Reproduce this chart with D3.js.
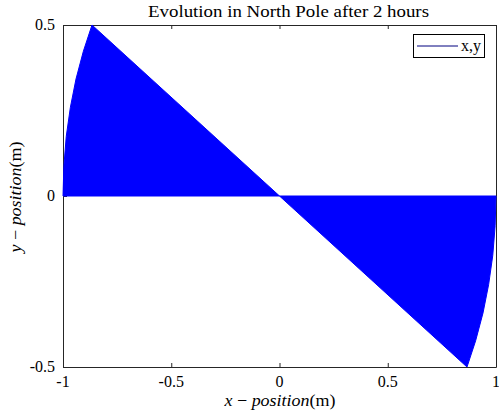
<!DOCTYPE html>
<html>
<head>
<meta charset="utf-8">
<script src="https://cdn.jsdelivr.net/npm/d3@7"></script>
<style>
  html, body { margin: 0; padding: 0; background: #fff; }
  svg { display: block; }
  text { font-family: "Liberation Serif", "Times New Roman", serif; fill: #000; }
</style>
</head>
<body>
<svg id="chart" width="499" height="415"></svg>
<script>
// Swept region of the pendulum path: the swing plane turns from the x axis
// to -30 degrees. Each wedge is outlined by the centre, the rim of the swing,
// and the final swing line.
const upperWedgeX = [0, -1, -0.996, -0.985, -0.966, -0.940, -0.906, -0.866, 0];
const upperWedgeY = [0, 0, 0.087, 0.174, 0.259, 0.342, 0.423, 0.5, 0];
const lowerWedgeX = [0, 1, 0.996, 0.985, 0.966, 0.940, 0.906, 0.866, 0];
const lowerWedgeY = [0, 0, -0.087, -0.174, -0.259, -0.342, -0.423, -0.5, 0];

const xTicks = [-1, -0.5, 0, 0.5, 1];
const yTicks = [-0.5, 0, 0.5];
const xTickLabels = ["-1", "-0.5", "0", "0.5", "1"];
const yTickLabels = ["-0.5", "0", "0.5"];

const titleText = "Evolution in North Pole after 2 hours";
const seriesName = "x,y";

const svg = d3.select("#chart");
const plot = { left: 63, right: 496, top: 25, bottom: 367 };

const x = d3.scaleLinear().domain([-1, 1]).range([plot.left, plot.right]);
const y = d3.scaleLinear().domain([-0.5, 0.5]).range([plot.bottom, plot.top]);

const blue = "#0000ff";
const tickLen = 4;

// axes box with inward ticks on all four sides
const axisG = svg.append("g");
axisG.append("g")
  .attr("transform", `translate(0,${plot.bottom})`)
  .call(d3.axisBottom(x).tickValues(xTicks).tickSizeInner(-tickLen).tickSizeOuter(0).tickFormat(""));
axisG.append("g")
  .attr("transform", `translate(0,${plot.top})`)
  .call(d3.axisTop(x).tickValues(xTicks).tickSizeInner(-tickLen).tickSizeOuter(0).tickFormat(""));
axisG.append("g")
  .attr("transform", `translate(${plot.left},0)`)
  .call(d3.axisLeft(y).tickValues(yTicks).tickSizeInner(-tickLen).tickSizeOuter(0).tickFormat(""));
axisG.append("g")
  .attr("transform", `translate(${plot.right},0)`)
  .call(d3.axisRight(y).tickValues(yTicks).tickSizeInner(-tickLen).tickSizeOuter(0).tickFormat(""));
axisG.selectAll(".domain").attr("stroke", "#262626").attr("stroke-width", 1);
axisG.selectAll(".tick line").attr("stroke", "#262626").attr("stroke-width", 1);

// tick labels
svg.append("g").selectAll("text")
  .data(xTicks)
  .join("text")
  .attr("x", d => x(d))
  .attr("y", plot.bottom + 20)
  .attr("text-anchor", "middle")
  .attr("font-size", 16)
  .text((d, i) => xTickLabels[i]);
svg.append("g").selectAll("text")
  .data(yTicks)
  .join("text")
  .attr("x", plot.left - 8)
  .attr("y", d => y(d) + 5)
  .attr("text-anchor", "end")
  .attr("font-size", 16)
  .text((d, i) => yTickLabels[i]);

// swept area of the swing
const line = d3.line().x(d => x(d[0])).y(d => y(d[1]));
const wedges = [d3.zip(upperWedgeX, upperWedgeY), d3.zip(lowerWedgeX, lowerWedgeY)];
svg.append("g").selectAll("path")
  .data(wedges)
  .join("path")
  .attr("d", line)
  .attr("fill", blue)
  .attr("stroke", blue)
  .attr("stroke-width", 1)
  .attr("stroke-linejoin", "round");

// title
svg.append("text")
  .attr("x", (plot.left + plot.right) / 2 + 9)
  .attr("y", 17)
  .attr("text-anchor", "middle")
  .attr("font-size", 16)
  .attr("textLength", 281)
  .attr("lengthAdjust", "spacingAndGlyphs")
  .text(titleText);

// axis labels: italic math part, upright unit
function axisLabel(g, variable) {
  const t = g.append("text").attr("text-anchor", "middle").attr("font-size", 16.5)
    .attr("textLength", 111).attr("lengthAdjust", "spacingAndGlyphs");
  t.append("tspan").attr("font-style", "italic").text(variable);
  t.append("tspan").text(" \u2212 ");
  t.append("tspan").attr("font-style", "italic").text("position");
  t.append("tspan").text("(m)");
  return t;
}
axisLabel(svg.append("g").attr("transform", `translate(280,406)`), "x");
axisLabel(svg.append("g").attr("transform", `translate(21,197) rotate(-90)`), "y");

// legend
const legend = svg.append("g");
legend.append("rect")
  .attr("x", 413.5).attr("y", 34.5).attr("width", 71).attr("height", 23)
  .attr("fill", "#fff").attr("stroke", "#000").attr("stroke-width", 1);
legend.append("line")
  .attr("x1", 417).attr("x2", 458).attr("y1", 46).attr("y2", 46)
  .attr("stroke", "#00007f").attr("stroke-width", 1);
legend.append("text")
  .attr("x", 461).attr("y", 51)
  .attr("font-size", 16)
  .text(seriesName);
</script>
</body>
</html>
